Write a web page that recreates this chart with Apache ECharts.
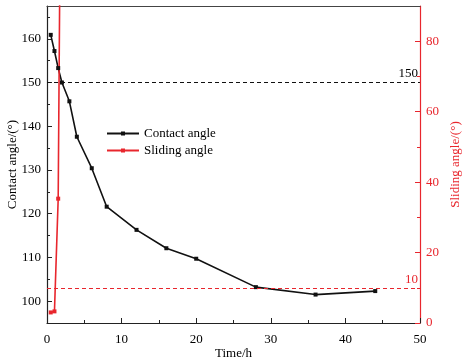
<!DOCTYPE html>
<html>
<head>
<meta charset="utf-8">
<script src="https://cdn.jsdelivr.net/npm/echarts@6/dist/echarts.min.js"></script>
<style>
  html, body { margin: 0; padding: 0; background: #fff; }
  #chart { width: 466px; height: 361px; }
</style>
</head>
<body>
<div id="chart"></div>
<script>
// contact angle (left axis)
const contactTime = [0.5, 1, 1.5, 2, 3, 4, 6, 8, 12, 16, 20, 28, 36, 44];
const contactAngle = [160.9, 157.2, 153.3, 150.0, 145.7, 137.6, 130.4, 121.6, 116.3, 112.1, 109.7, 103.2, 101.5, 102.3];
// sliding angle (right axis), last point runs off the top
const slidingTime = [0.5, 1, 1.5, 2];
const slidingAngle = [3.0, 3.3, 35.3, 180];

const leftLabels = [100, 110, 120, 130, 140, 150, 160];
const leftMinor = [105, 115, 125, 135, 145, 155, 165];
const rightLabels = [0, 20, 40, 60, 80];
const rightMinor = [10, 30, 50, 70];

const RED = '#e8262d';
const FONT = 'Liberation Serif';

const chart = echarts.init(document.getElementById('chart'));

const zip = (xs, ys) => xs.map((x, i) => [x, ys[i]]);

chart.setOption({
  animation: false,
  textStyle: { fontFamily: FONT },
  grid: { left: 47, right: 46, top: 6, bottom: 38, outerBoundsMode: 'none', containLabel: false },
  legend: {
    orient: 'vertical',
    left: 101,
    top: 122,
    itemWidth: 32,
    itemHeight: 5,
    itemGap: 4,
    textStyle: { fontFamily: FONT, fontSize: 13, color: '#000' },
    data: ['Contact angle', 'Sliding angle']
  },
  xAxis: [{
    type: 'value',
    min: 0,
    max: 50,
    interval: 10,
    name: 'Time/h',
    nameLocation: 'middle',
    nameGap: 24,
    nameMoveOverlap: false,
    nameTextStyle: { fontFamily: FONT, fontSize: 13, color: '#000' },
    axisLine: { onZero: false, lineStyle: { color: '#222', width: 1.2 } },
    axisTick: { inside: true, length: 5, lineStyle: { color: '#222' } },
    minorTick: { show: true, splitNumber: 2, length: 3, lineStyle: { color: '#222' } },
    axisLabel: { fontFamily: FONT, fontSize: 13, color: '#000', margin: 10 },
    splitLine: { show: false }
  }, {
    type: 'value',
    position: 'top',
    min: 0,
    max: 50,
    axisLine: { onZero: false, lineStyle: { color: '#444', width: 1.2 } },
    axisTick: { show: false },
    axisLabel: { show: false },
    splitLine: { show: false }
  }],
  yAxis: [{
    type: 'value',
    min: 95,
    max: 167.5,
    name: 'Contact angle/(°)',
    nameLocation: 'middle',
    nameGap: 28,
    nameMoveOverlap: false,
    nameTextStyle: { fontFamily: FONT, fontSize: 13, color: '#000' },
    axisLine: { show: true, onZero: false, lineStyle: { color: '#222', width: 1.2 } },
    axisTick: { inside: true, length: 5, customValues: leftLabels, lineStyle: { color: '#222' } },
    axisLabel: { customValues: leftLabels, fontFamily: FONT, fontSize: 13, color: '#000', margin: 6 },
    splitLine: { show: false }
  }, {
    type: 'value',
    position: 'right',
    min: 0,
    max: 90,
    name: 'Sliding angle/(°)',
    nameLocation: 'middle',
    nameRotate: 90,
    nameGap: 29,
    nameMoveOverlap: false,
    nameTextStyle: { fontFamily: FONT, fontSize: 13, color: RED },
    axisLine: { show: true, onZero: false, lineStyle: { color: RED, width: 1.2 } },
    axisTick: { inside: true, length: 5, customValues: rightLabels, lineStyle: { color: RED } },
    axisLabel: { customValues: rightLabels, fontFamily: FONT, fontSize: 13, color: RED, margin: 6 },
    splitLine: { show: false }
  }, {
    // minor ticks left
    type: 'value',
    position: 'left',
    offset: 0,
    min: 95,
    max: 167.5,
    axisLine: { show: false, onZero: false },
    axisTick: { inside: true, length: 3, customValues: leftMinor, lineStyle: { color: '#222' } },
    axisLabel: { show: false },
    splitLine: { show: false }
  }, {
    // minor ticks right
    type: 'value',
    position: 'right',
    offset: 0,
    min: 0,
    max: 90,
    axisLine: { show: false, onZero: false },
    axisTick: { inside: true, length: 3, customValues: rightMinor, lineStyle: { color: RED } },
    axisLabel: { show: false },
    splitLine: { show: false }
  }],
  series: [{
    name: 'Contact angle',
    type: 'line',
    yAxisIndex: 0,
    color: '#111',
    symbol: 'rect',
    symbolSize: 4,
    lineStyle: { width: 1.6, color: '#111' },
    data: zip(contactTime, contactAngle),
    markLine: {
      silent: true,
      symbol: 'none',
      lineStyle: { type: [4, 3], color: '#111', width: 1 },
      label: { position: 'insideEndTop', formatter: '150', fontFamily: FONT, fontSize: 13, color: '#000', distance: [2, 2] },
      data: [{ yAxis: 150 }]
    }
  }, {
    name: 'Sliding angle',
    type: 'line',
    yAxisIndex: 1,
    color: RED,
    symbol: 'rect',
    symbolSize: 4,
    clip: true,
    lineStyle: { width: 1.6, color: RED },
    data: zip(slidingTime, slidingAngle),
    markLine: {
      silent: true,
      symbol: 'none',
      lineStyle: { type: [4, 3], color: RED, width: 1 },
      label: { position: 'insideEndTop', formatter: '10', fontFamily: FONT, fontSize: 13, color: RED, distance: [2, 2] },
      data: [{ yAxis: 10 }]
    }
  }]
});
</script>
</body>
</html>
